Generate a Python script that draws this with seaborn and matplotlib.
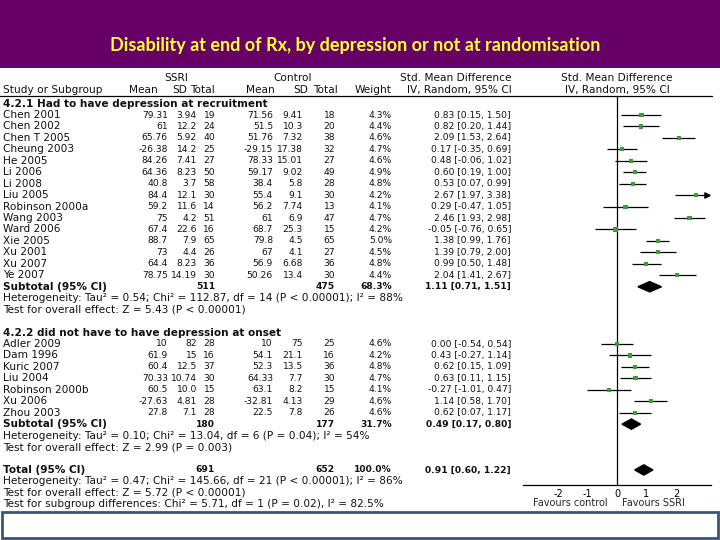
import matplotlib
matplotlib.use("Agg")
import matplotlib.pyplot as plt
import seaborn as sns
import pandas as pd
from matplotlib.patches import Rectangle

# -----------------------------
# Data
# -----------------------------
studies_1 = ["Chen 2001", "Chen 2002", "Chen T 2005", "Cheung 2003", "He 2005", "Li 2006",
             "Li 2008", "Liu 2005", "Robinson 2000a", "Wang 2003", "Ward 2006", "Xie 2005",
             "Xu 2001", "Xu 2007", "Ye 2007"]
ssri_mean_1 = ["79.31", "61", "65.76", "-26.38", "84.26", "64.36", "40.8", "84.4", "59.2", "75",
               "67.4", "88.7", "73", "64.4", "78.75"]
ssri_sd_1 = ["3.94", "12.2", "5.92", "14.2", "7.41", "8.23", "3.7", "12.1", "11.6", "4.2",
             "22.6", "7.9", "4.4", "8.23", "14.19"]
ssri_n_1 = [19, 24, 40, 25, 27, 50, 58, 30, 14, 51, 16, 65, 26, 36, 30]
ctrl_mean_1 = ["71.56", "51.5", "51.76", "-29.15", "78.33", "59.17", "38.4", "55.4", "56.2", "61",
               "68.7", "79.8", "67", "56.9", "50.26"]
ctrl_sd_1 = ["9.41", "10.3", "7.32", "17.38", "15.01", "9.02", "5.8", "9.1", "7.74", "6.9",
             "25.3", "4.5", "4.1", "6.68", "13.4"]
ctrl_n_1 = [18, 20, 38, 32, 27, 49, 28, 30, 13, 47, 15, 65, 27, 36, 30]
weight_1 = [4.3, 4.4, 4.6, 4.7, 4.6, 4.9, 4.8, 4.2, 4.1, 4.7, 4.2, 5.0, 4.5, 4.8, 4.4]
smd_1 = [0.83, 0.82, 2.09, 0.17, 0.48, 0.60, 0.53, 2.67, 0.29, 2.46, -0.05, 1.38, 1.39, 0.99, 2.04]
lo_1 = [0.15, 0.20, 1.53, -0.35, -0.06, 0.19, 0.07, 1.97, -0.47, 1.93, -0.76, 0.99, 0.79, 0.50, 1.41]
hi_1 = [1.50, 1.44, 2.64, 0.69, 1.02, 1.00, 0.99, 3.38, 1.05, 2.98, 0.65, 1.76, 2.00, 1.48, 2.67]

studies_2 = ["Adler 2009", "Dam 1996", "Kuric 2007", "Liu 2004", "Robinson 2000b", "Xu 2006",
             "Zhou 2003"]
ssri_mean_2 = ["10", "61.9", "60.4", "70.33", "60.5", "-27.63", "27.8"]
ssri_sd_2 = ["82", "15", "12.5", "10.74", "10.0", "4.81", "7.1"]
ssri_n_2 = [28, 16, 37, 30, 15, 28, 28]
ctrl_mean_2 = ["10", "54.1", "52.3", "64.33", "63.1", "-32.81", "22.5"]
ctrl_sd_2 = ["75", "21.1", "13.5", "7.7", "8.2", "4.13", "7.8"]
ctrl_n_2 = [25, 16, 36, 30, 15, 29, 26]
weight_2 = [4.6, 4.2, 4.8, 4.7, 4.1, 4.6, 4.6]
smd_2 = [0.00, 0.43, 0.62, 0.63, -0.27, 1.14, 0.62]
lo_2 = [-0.54, -0.27, 0.15, 0.11, -1.01, 0.58, 0.07]
hi_2 = [0.54, 1.14, 1.09, 1.15, 0.47, 1.70, 1.17]

# pooled estimates: subtotal 1, subtotal 2, total
pooled_labels = ["Subtotal (95% CI)", "Subtotal (95% CI)", "Total (95% CI)"]
pooled_ssri_n = [511, 180, 691]
pooled_ctrl_n = [475, 177, 652]
pooled_weight = ["68.3%", "31.7%", "100.0%"]
pooled_smd = [1.11, 0.49, 0.91]
pooled_lo = [0.71, 0.17, 0.60]
pooled_hi = [1.51, 0.80, 1.22]

het_1 = "Heterogeneity: Tau² = 0.54; Chi² = 112.87, df = 14 (P < 0.00001); I² = 88%"
eff_1 = "Test for overall effect: Z = 5.43 (P < 0.00001)"
het_2 = "Heterogeneity: Tau² = 0.10; Chi² = 13.04, df = 6 (P = 0.04); I² = 54%"
eff_2 = "Test for overall effect: Z = 2.99 (P = 0.003)"
het_t = "Heterogeneity: Tau² = 0.47; Chi² = 145.66, df = 21 (P < 0.00001); I² = 86%"
eff_t = "Test for overall effect: Z = 5.72 (P < 0.00001)"
sub_t = "Test for subgroup differences: Chi² = 5.71, df = 1 (P = 0.02), I² = 82.5%"

title = "Disability at end of Rx, by depression or not at randomisation"
x_ticks = [-2, -1, 0, 1, 2]

# -----------------------------
# Row layout (row index -> pixel)
# -----------------------------
ROW0, ROWH = 115, 11.45
rows_1 = list(range(0, 15))
rows_2 = list(range(20, 27))
pooled_rows = [15, 27, 31]


def fy(px):
    return 1 - px / 540


def row_px(r):
    return ROW0 + ROWH * r


sns.set_theme(style="white")
plt.rcParams["font.family"] = ["DejaVu Sans"]

fig = plt.figure(figsize=(7.2, 5.4), dpi=100)
fig.patch.set_facecolor("white")

# purple title band
fig.patches.append(Rectangle((0, fy(68)), 1, 68 / 540, transform=fig.transFigure,
                             facecolor="#660066", edgecolor="none", zorder=0))
fig.text(0.493, fy(46), title, color="#FFFF33", fontsize=13, family="Lato",
         fontweight="bold", ha="center", va="center")

# table axes: x in pixels, y in rows
tab = fig.add_axes([0, 0, 1, 1])
tab.set_xlim(0, 720)
tab.set_ylim((540 - ROW0) / ROWH, -ROW0 / ROWH)
tab.axis("off")
tab.patch.set_alpha(0)

FS_NUM = 6.6   # numeric cells
FS_TXT = 7.6   # labels and notes
col_x = {"mean": 168, "sd": 197, "n": 215, "cmean": 273, "csd": 303, "cn": 335,
         "w": 392, "ci": 511}


def put(x, r, s, ha="right", bold=False, fs=FS_NUM):
    tab.text(x, r, s, fontsize=fs, ha=ha, va="center",
             fontweight="bold" if bold else "normal", color="#111111")


# headers
put(176, -3.2, "SSRI", ha="center", fs=FS_TXT)
put(293, -3.2, "Control", ha="center", fs=FS_TXT)
put(512, -3.2, "Std. Mean Difference", fs=FS_TXT)
put(617, -3.2, "Std. Mean Difference", ha="center", fs=FS_TXT)
put(3, -2.2, "Study or Subgroup", ha="left", fs=FS_TXT)
for x, s in [(158, "Mean"), (187, "SD"), (215, "Total"), (275, "Mean"), (308, "SD"),
             (338, "Total"), (392, "Weight"), (512, "IV, Random, 95% CI")]:
    put(x, -2.2, s, fs=FS_TXT)
put(617, -2.2, "IV, Random, 95% CI", ha="center", fs=FS_TXT)
tab.plot([0, 712], [-1.65, -1.65], color="black", lw=0.9)


def study_rows(rows, names, m, sd, n, cm, csd, cn, w, smd, lo, hi):
    for i, r in enumerate(rows):
        put(3, r, names[i], ha="left", fs=FS_TXT)
        put(col_x["mean"], r, m[i])
        put(col_x["sd"], r, sd[i])
        put(col_x["n"], r, str(n[i]))
        put(col_x["cmean"], r, cm[i])
        put(col_x["csd"], r, csd[i])
        put(col_x["cn"], r, str(cn[i]))
        put(col_x["w"], r, f"{w[i]:.1f}%")
        put(col_x["ci"], r, f"{smd[i]:.2f} [{lo[i]:.2f}, {hi[i]:.2f}]")


put(3, -1, "4.2.1 Had to have depression at recruitment", ha="left", bold=True, fs=FS_TXT)
study_rows(rows_1, studies_1, ssri_mean_1, ssri_sd_1, ssri_n_1, ctrl_mean_1, ctrl_sd_1,
           ctrl_n_1, weight_1, smd_1, lo_1, hi_1)
put(3, 19, "4.2.2 did not have to have depression at onset", ha="left", bold=True, fs=FS_TXT)
study_rows(rows_2, studies_2, ssri_mean_2, ssri_sd_2, ssri_n_2, ctrl_mean_2, ctrl_sd_2,
           ctrl_n_2, weight_2, smd_2, lo_2, hi_2)

for k, r in enumerate(pooled_rows):
    put(3, r, pooled_labels[k], ha="left", bold=True, fs=FS_TXT)
    put(col_x["n"], r, str(pooled_ssri_n[k]), bold=True)
    put(col_x["cn"], r, str(pooled_ctrl_n[k]), bold=True)
    put(col_x["w"], r, pooled_weight[k], bold=True)
    put(col_x["ci"], r, f"{pooled_smd[k]:.2f} [{pooled_lo[k]:.2f}, {pooled_hi[k]:.2f}]",
        bold=True)

for r, s in [(16, het_1), (17, eff_1), (28, het_2), (29, eff_2),
             (32, het_t), (33, eff_t), (34, sub_t)]:
    put(3, r, s, ha="left", fs=FS_TXT)

# -----------------------------
# Forest panel
# -----------------------------
top_r, bot_r = -1.65, 32.3
ax = fig.add_axes([523 / 720, fy(row_px(bot_r)), 188 / 720,
                   (row_px(bot_r) - row_px(top_r)) / 540])
ax.patch.set_alpha(0)
XMAX = 3.19
ax.set_xlim(-XMAX, XMAX)
ax.set_ylim(bot_r, top_r)

df = pd.DataFrame({
    "row": rows_1 + rows_2,
    "smd": smd_1 + smd_2,
    "lo": lo_1 + lo_2,
    "hi": hi_1 + hi_2,
})
df["hi_clip"] = df["hi"].clip(upper=XMAX - 0.12)

ax.axvline(0, color="black", lw=0.9, zorder=1)
ax.hlines(df["row"], df["lo"], df["hi_clip"], color="black", lw=0.9, zorder=2)
over = df[df["hi"] > XMAX]
ax.scatter(over["hi_clip"], over["row"], marker=">", s=14, color="black", zorder=3)
sns.scatterplot(data=df, x="smd", y="row", marker="s", s=9, color="#3d9a3d",
                edgecolor="none", ax=ax, zorder=4, legend=False)

for k, r in enumerate(pooled_rows):
    xs = [pooled_lo[k], pooled_smd[k], pooled_hi[k], pooled_smd[k]]
    ys = [r, r - 0.45, r, r + 0.45]
    ax.fill(xs, ys, color="black", zorder=4)

for side in ["left", "right", "top"]:
    ax.spines[side].set_visible(False)
ax.spines["bottom"].set_color("black")
ax.spines["bottom"].set_linewidth(0.9)
ax.set_xticks(x_ticks)
ax.set_xticklabels([str(t) for t in x_ticks], fontsize=FS_NUM + 0.4)
ax.tick_params(axis="x", direction="inout", length=6, width=0.9, pad=0, colors="black")
ax.set_yticks([])
ax.set_xlabel("")
ax.set_ylabel("")

tab.text(608, 33.9, "Favours control", fontsize=7.0, ha="right", va="center")
tab.text(622, 33.9, "Favours SSRI", fontsize=7.0, ha="left", va="center")

# bottom framed box
fig.patches.append(Rectangle((2 / 720, fy(538)), 716 / 720, 26 / 540,
                             transform=fig.transFigure, facecolor="white",
                             edgecolor="#3b5472", lw=2, zorder=10))

fig.savefig("out.png", dpi=100)
